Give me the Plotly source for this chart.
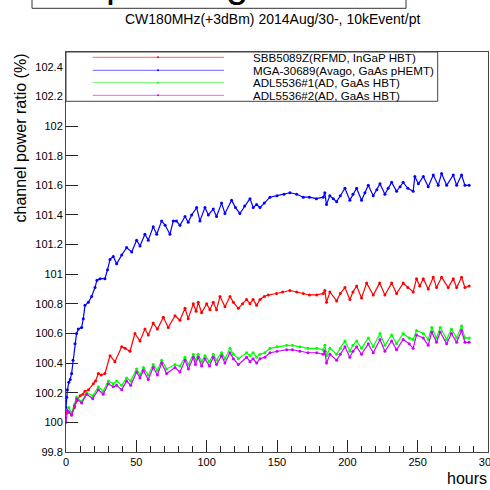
import plotly.graph_objects as go

# ---------------- data ----------------
series_names = [
    "SBB5089Z(RFMD, InGaP HBT)",
    "MGA-30689(Avago, GaAs pHEMT)",
    "ADL5536#1(AD, GaAs HBT)",
    "ADL5536#2(AD, GaAs HBT)",
]
series_colors = ["#ff0000", "#0000ff", "#00ff00", "#cc00ff"]

red_hours = [0, 2, 4, 6, 8, 10, 12, 13.5, 16, 19.4, 21, 23, 25, 27.7, 31.3, 34.8, 39.6, 42, 45.5, 49,
             52.6, 56.1, 58.5, 62, 65, 69.2, 72.7, 77.5, 81, 84.6, 86.9, 90.5, 92.5, 94, 96.4, 100, 102.3,
             104.7, 107, 109.5, 113, 116.6, 119, 122.5, 125.5, 128.4, 130.8, 133, 135.5, 137.9, 141, 143.8,
             149.7, 154, 159.2, 164, 168.7, 173, 178.2, 182.9, 184, 185.2, 187.6, 192.4, 195, 198.3, 201.8,
             204, 206.6, 210.1, 213.7, 218.4, 223, 226.7, 231.5, 235, 239.7, 243, 246.8, 249.2, 251.5, 254,
             257.5, 261.1, 263.4, 267, 271.7, 275.3, 277.7, 281.2, 283.6, 286.6]
red_values = [100.06, 100.07, 100.05, 100.10, 100.15, 100.18, 100.19, 100.21, 100.22, 100.26,
              100.28, 100.33, 100.32, 100.33, 100.45, 100.41, 100.51, 100.50, 100.48, 100.60,
              100.55, 100.63, 100.59, 100.67, 100.63, 100.71, 100.64, 100.72, 100.69, 100.77,
              100.70, 100.80, 100.75, 100.81, 100.74, 100.80, 100.76, 100.81, 100.76, 100.85,
              100.78, 100.85, 100.81, 100.77, 100.80, 100.83, 100.80, 100.83, 100.79, 100.83,
              100.85, 100.86, 100.87, 100.88, 100.89, 100.88, 100.87, 100.86, 100.86, 100.87,
              100.89, 100.81, 100.88, 100.82, 100.87, 100.91, 100.83, 100.88, 100.92, 100.84,
              100.94, 100.86, 100.94, 100.86, 100.94, 100.87, 100.94, 100.91, 100.88, 100.97,
              100.92, 100.97, 100.90, 100.98, 100.91, 100.98, 100.91, 100.97, 100.91, 100.98,
              100.91, 100.92]

blue_hours = [0, 0.5, 1, 2, 3, 4, 5, 6.4, 7.5, 8.8, 11.1, 12.3, 13.5, 15.9, 18.2, 20.6, 22, 24.2, 27.7,
              29.5, 31.3, 33.6, 36, 39.6, 43.1, 46.7, 50.2, 52.6, 56.1, 58.5, 62, 64.5, 68, 70.5, 73.9,
              76.3, 78.5, 81, 84.6, 86.9, 89.3, 92.9, 95.2, 98.8, 101.2, 104.7, 107, 110.6, 113, 117.7,
              120.5, 123.6, 127, 130.8, 133.1, 135.5, 137.9, 141, 145, 150, 155, 159.2, 164, 168.7, 173,
              178, 182.9, 184, 185.2, 187.5, 190, 192.4, 195, 198.3, 201.8, 204, 206.6, 210.1, 212.5,
              214.9, 218.4, 221, 223.2, 226.7, 229, 231.5, 235, 237.5, 239.7, 243, 246.8, 248, 250.5,
              254, 257.5, 261.1, 264.6, 267, 270.6, 275.3, 277.7, 281.2, 283.6, 286.6]
blue_values = [100.10, 100.17, 100.22, 100.27, 100.29, 100.33, 100.42, 100.53, 100.60, 100.63,
               100.64, 100.70, 100.79, 100.81, 100.85, 100.91, 100.96, 100.97, 100.97, 101.03,
               101.10, 101.12, 101.07, 101.13, 101.18, 101.15, 101.23, 101.19, 101.27, 101.23,
               101.32, 101.27, 101.36, 101.33, 101.27, 101.36, 101.36, 101.33, 101.39, 101.35,
               101.40, 101.45, 101.36, 101.45, 101.40, 101.44, 101.39, 101.48, 101.41, 101.50,
               101.45, 101.41, 101.46, 101.51, 101.45, 101.47, 101.45, 101.48, 101.52, 101.53,
               101.54, 101.55, 101.54, 101.52, 101.52, 101.51, 101.52, 101.55, 101.47, 101.53,
               101.51, 101.49, 101.53, 101.58, 101.50, 101.54, 101.58, 101.50, 101.55, 101.60,
               101.53, 101.57, 101.61, 101.54, 101.58, 101.62, 101.56, 101.59, 101.62, 101.58,
               101.56, 101.66, 101.61, 101.66, 101.59, 101.67, 101.60, 101.68, 101.60, 101.67,
               101.60, 101.67, 101.60, 101.60]

green_hours = [0, 2, 4, 6, 7.6, 11.1, 14.7, 19, 23, 26.5, 30.1, 33.6, 36, 39.6, 43.1, 46, 50.2, 52.6, 55,
               58.5, 62, 65, 68, 71.5, 77.5, 81, 84.6, 87, 90.5, 92, 94, 96.4, 98.8, 102, 104.7, 107,
               110.6, 113, 116.6, 119, 122.5, 128.4, 130.8, 133, 135.5, 137.9, 141.4, 145, 150, 156.8,
               161, 166.3, 172, 178.2, 182.9, 184, 185.2, 187.6, 192.4, 195, 198.3, 201.8, 204, 206.6,
               210.1, 214.9, 218.4, 223.2, 226.7, 231.5, 235, 239.7, 244, 246.8, 249.2, 254, 257.5, 260,
               263.4, 266, 270.6, 274, 277.7, 281.2, 283.6, 286.6]
green_values = [100.08, 100.10, 100.06, 100.12, 100.17, 100.14, 100.20, 100.18, 100.24, 100.21,
                100.28, 100.26, 100.28, 100.25, 100.30, 100.28, 100.36, 100.32, 100.37, 100.32,
                100.39, 100.35, 100.42, 100.36, 100.39, 100.38, 100.44, 100.39, 100.46, 100.42,
                100.46, 100.41, 100.45, 100.41, 100.46, 100.42, 100.47, 100.43, 100.50, 100.46,
                100.43, 100.47, 100.45, 100.47, 100.44, 100.46, 100.47, 100.50, 100.51, 100.52,
                100.52, 100.51, 100.50, 100.50, 100.49, 100.52, 100.45, 100.50, 100.46, 100.50,
                100.55, 100.48, 100.52, 100.55, 100.50, 100.57, 100.51, 100.60, 100.52, 100.59,
                100.53, 100.60, 100.57, 100.56, 100.62, 100.60, 100.56, 100.64, 100.57, 100.64,
                100.56, 100.63, 100.57, 100.65, 100.57, 100.57]

purple_hours = [0, 1, 2, 4, 6, 7.6, 11.1, 14.7, 19, 23, 26.5, 30.1, 33.6, 36, 39.6, 43.1, 46, 50.2, 52.6,
                55, 58.5, 62, 65, 68, 71.5, 77.5, 81, 84.6, 87, 90.5, 92, 94, 96.4, 98.8, 102, 104.7, 107,
                110.6, 113, 116.6, 119, 122.5, 128.4, 130.8, 133, 135.5, 137.9, 141.4, 145, 150, 156.8,
                161, 166.3, 172, 178.2, 182.9, 184, 185.2, 187.6, 192.4, 195, 198.3, 201.8, 204, 206.6,
                210.1, 214.9, 218.4, 223.2, 226.7, 231.5, 235, 239.7, 244, 246.8, 249.2, 254, 257.5, 260,
                263.4, 266, 270.6, 274, 277.7, 281.2, 283.6, 286.6]
purple_values = [100.00, 100.08, 100.07, 100.05, 100.11, 100.16, 100.13, 100.19, 100.16, 100.22,
                 100.19, 100.26, 100.24, 100.25, 100.22, 100.28, 100.25, 100.34, 100.30, 100.35,
                 100.29, 100.37, 100.32, 100.40, 100.33, 100.37, 100.34, 100.42, 100.36, 100.44,
                 100.39, 100.44, 100.38, 100.43, 100.38, 100.44, 100.39, 100.45, 100.40, 100.47,
                 100.43, 100.39, 100.44, 100.41, 100.43, 100.40, 100.43, 100.44, 100.47, 100.48,
                 100.49, 100.49, 100.48, 100.47, 100.47, 100.46, 100.48, 100.40, 100.46, 100.42,
                 100.46, 100.51, 100.44, 100.48, 100.51, 100.46, 100.53, 100.47, 100.56, 100.48,
                 100.55, 100.49, 100.56, 100.53, 100.50, 100.59, 100.57, 100.52, 100.61, 100.54,
                 100.61, 100.53, 100.60, 100.54, 100.62, 100.54, 100.54]

y_tick_values = [99.8, 100.0, 100.2, 100.4, 100.6, 100.8, 101.0, 101.2, 101.4, 101.6, 101.8, 102.0, 102.2, 102.4]
y_tick_labels = ["99.8", "100", "100.2", "100.4", "100.6", "100.8", "101", "101.2", "101.4", "101.6",
                 "101.8", "102", "102.2", "102.4"]
x_tick_values = [0, 50, 100, 150, 200, 250, 300]
x_tick_labels = ["0", "50", "100", "150", "200", "250", "300"]

title_text = "CW180MHz(+3dBm) 2014Aug/30-, 10kEvent/pt"
y_title = "channel power ratio (%)"
x_title = "hours"

# ---------------- layout geometry ----------------
W, H = 490, 490
ML, MR, MT, MB = 66, 2, 52, 38
PW, PH = W - ML - MR, H - MT - MB
FONT = "Liberation Sans, Arial, Helvetica, sans-serif"


def px(xp):
    return (xp - ML) / PW


def py(yp):
    return (H - MB - yp) / PH


fig = go.Figure()
all_hours = [red_hours, blue_hours, green_hours, purple_hours]
all_values = [red_values, blue_values, green_values, purple_values]
for name, color, hx, vy in zip(series_names, series_colors, all_hours, all_values):
    fig.add_trace(go.Scatter(
        x=hx, y=vy, name=name, mode="lines+markers",
        line=dict(color=color, width=1.2),
        marker=dict(color=color, size=3),
        showlegend=False,
    ))

shapes = []
annotations = []

# legend box (drawn over the plot like ROOT's TLegend)
shapes.append(dict(type="rect", xref="paper", yref="paper",
                   x0=px(66), x1=px(437.7), y0=py(101.3), y1=py(52),
                   fillcolor="white", line=dict(color="#444", width=1), layer="above"))
row_y = [57.3, 70.3, 82.7, 95.3]
for name, color, ry in zip(series_names, series_colors, row_y):
    shapes.append(dict(type="line", xref="paper", yref="paper",
                       x0=px(92.7), x1=px(224), y0=py(ry), y1=py(ry),
                       line=dict(color=color, width=1), layer="above", opacity=0.6))
    shapes.append(dict(type="circle", xref="paper", yref="paper",
                       x0=px(157), x1=px(159), y0=py(ry + 1), y1=py(ry - 1),
                       fillcolor=color, line=dict(color=color, width=0), layer="above"))
    annotations.append(dict(text=name, xref="paper", yref="paper",
                            x=px(250.7), y=py(ry), xanchor="left", yanchor="middle",
                            showarrow=False, font=dict(family=FONT, size=11.6, color="black")))

# cut-off title pave at the very top
shapes.append(dict(type="rect", xref="paper", yref="paper",
                   x0=px(32), x1=px(406), y0=py(8.3), y1=py(-40),
                   fillcolor="rgba(0,0,0,0)", line=dict(color="#333", width=1), layer="above"))
annotations.append(dict(text="power gain", xref="paper", yref="paper",
                        x=px(104), y=py(7), xanchor="left", yanchor="bottom",
                        showarrow=False, font=dict(family=FONT, size=40, color="black")))

# subtitle
annotations.append(dict(text=title_text, xref="paper", yref="paper",
                        x=px(272.5), y=py(19.5), xanchor="center", yanchor="middle",
                        showarrow=False, font=dict(family=FONT, size=14, color="black")))
# axis titles
annotations.append(dict(text=y_title, xref="paper", yref="paper",
                        x=px(20), y=py(52), xanchor="center", yanchor="top", textangle=-90,
                        showarrow=False, font=dict(family=FONT, size=16, color="black")))
annotations.append(dict(text=x_title, xref="paper", yref="paper",
                        x=px(488.5), y=py(479), xanchor="right", yanchor="middle",
                        showarrow=False, font=dict(family=FONT, size=16, color="black")))

fig.update_layout(
    width=W, height=H,
    margin=dict(l=ML, r=MR, t=MT, b=MB, pad=0, autoexpand=False),
    paper_bgcolor="white", plot_bgcolor="white",
    showlegend=False,
    shapes=shapes, annotations=annotations,
    font=dict(family=FONT, color="black"),
)
fig.update_xaxes(
    range=[0, 300], tickmode="array", tickvals=x_tick_values, ticktext=x_tick_labels,
    ticks="inside", ticklen=12, tickcolor="#222", tickwidth=1,
    minor=dict(dtick=10, ticks="inside", ticklen=6, tickcolor="#222", showgrid=False),
    showgrid=False, zeroline=False,
    showline=True, linecolor="#444", linewidth=1, mirror=True,
    ticklabeloverflow="allow", automargin=False,
    tickfont=dict(family=FONT, size=11, color="black"),
)
fig.update_yaxes(
    range=[99.8, 102.5], tickmode="array", tickvals=y_tick_values, ticktext=y_tick_labels,
    ticks="inside", ticklen=12, tickcolor="#222", tickwidth=1,
    showgrid=False, zeroline=False,
    showline=True, linecolor="#444", linewidth=1, mirror=True, automargin=False,
    tickfont=dict(family=FONT, size=11, color="black"),
)

fig.write_html("out.html", config={"displayModeBar": False},
               post_script="document.body.style.margin='0';")
